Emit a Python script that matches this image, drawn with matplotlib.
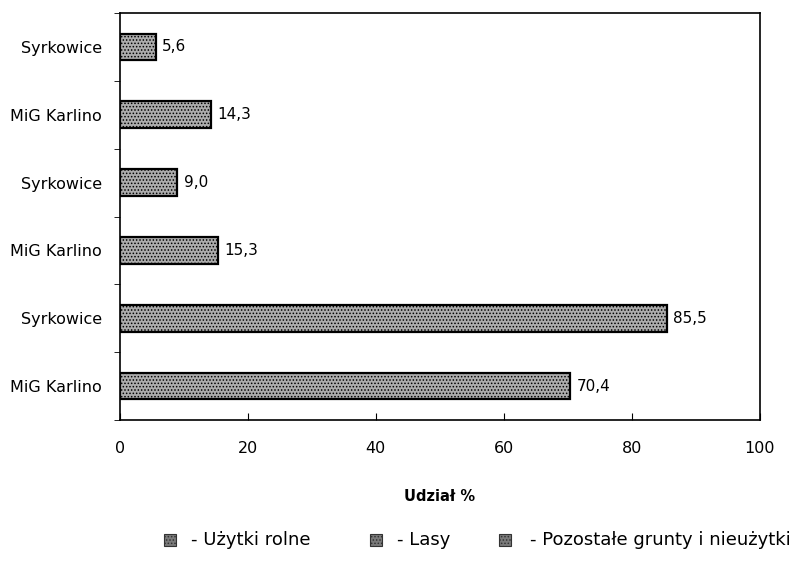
import matplotlib
matplotlib.use('Agg')
import matplotlib.pyplot as plt
from matplotlib.patches import Rectangle
import numpy as np

# dane (od dołu do góry)
kategorie = ['MiG Karlino', 'Syrkowice', 'MiG Karlino', 'Syrkowice', 'MiG Karlino', 'Syrkowice']
wartosci = [70.4, 85.5, 15.3, 9.0, 14.3, 5.6]
etykiety = [f'{v:.1f}'.replace('.', ',') for v in wartosci]
legenda = ['- Użytki rolne', '- Lasy', '- Pozostałe grunty i nieużytki']

plt.rcParams['font.family'] = ['DejaVu Sans']
plt.rcParams['hatch.color'] = '#5a5a5a'
plt.rcParams['hatch.linewidth'] = 0.7

fig = plt.figure(figsize=(7.99, 5.61), dpi=100)
ax = fig.add_axes([0.150, 0.251, 0.801, 0.726])

y = np.arange(len(kategorie))
ax.barh(y, wartosci, height=0.39, color='#acacac', edgecolor='black',
        linewidth=1.6, hatch='.....')

for yi, v, t in zip(y, wartosci, etykiety):
    ax.text(v + 1.0, yi, t, va='center', ha='left', fontsize=11)

ax.set_xlim(0, 100)
ax.set_ylim(-0.5, 5.5)
ax.set_xticks([0, 20, 40, 60, 80, 100])
ax.tick_params(axis='x', direction='in', length=5, labelsize=11.5, pad=15)
ax.set_yticks(y)
ax.set_yticklabels(kategorie, fontsize=11.5)
ax.set_yticks(np.arange(-0.5, 5.6, 1), minor=True)
ax.tick_params(axis='y', which='major', length=0, pad=13)
ax.tick_params(axis='y', which='minor', direction='out', length=4)
for s in ax.spines.values():
    s.set_linewidth(1.2)

ax.set_xlabel('Udział %', fontsize=10.5, fontweight='bold', labelpad=24)

# legenda pod wykresem
poz_znacznik = [164, 370, 499]
poz_tekst = [191, 397, 530]
yl = 1 - 540 / 561
for xm, xt, t in zip(poz_znacznik, poz_tekst, legenda):
    fig.patches.append(Rectangle((xm / 799, yl - 6 / 561), 12 / 799, 12 / 561,
                                 transform=fig.transFigure, facecolor='#7a7a7a',
                                 edgecolor='#333333', hatch='.....', linewidth=0.8))
    fig.text(xt / 799, yl, t, fontsize=13, va='center', ha='left')

fig.savefig('out.png', dpi=100)
